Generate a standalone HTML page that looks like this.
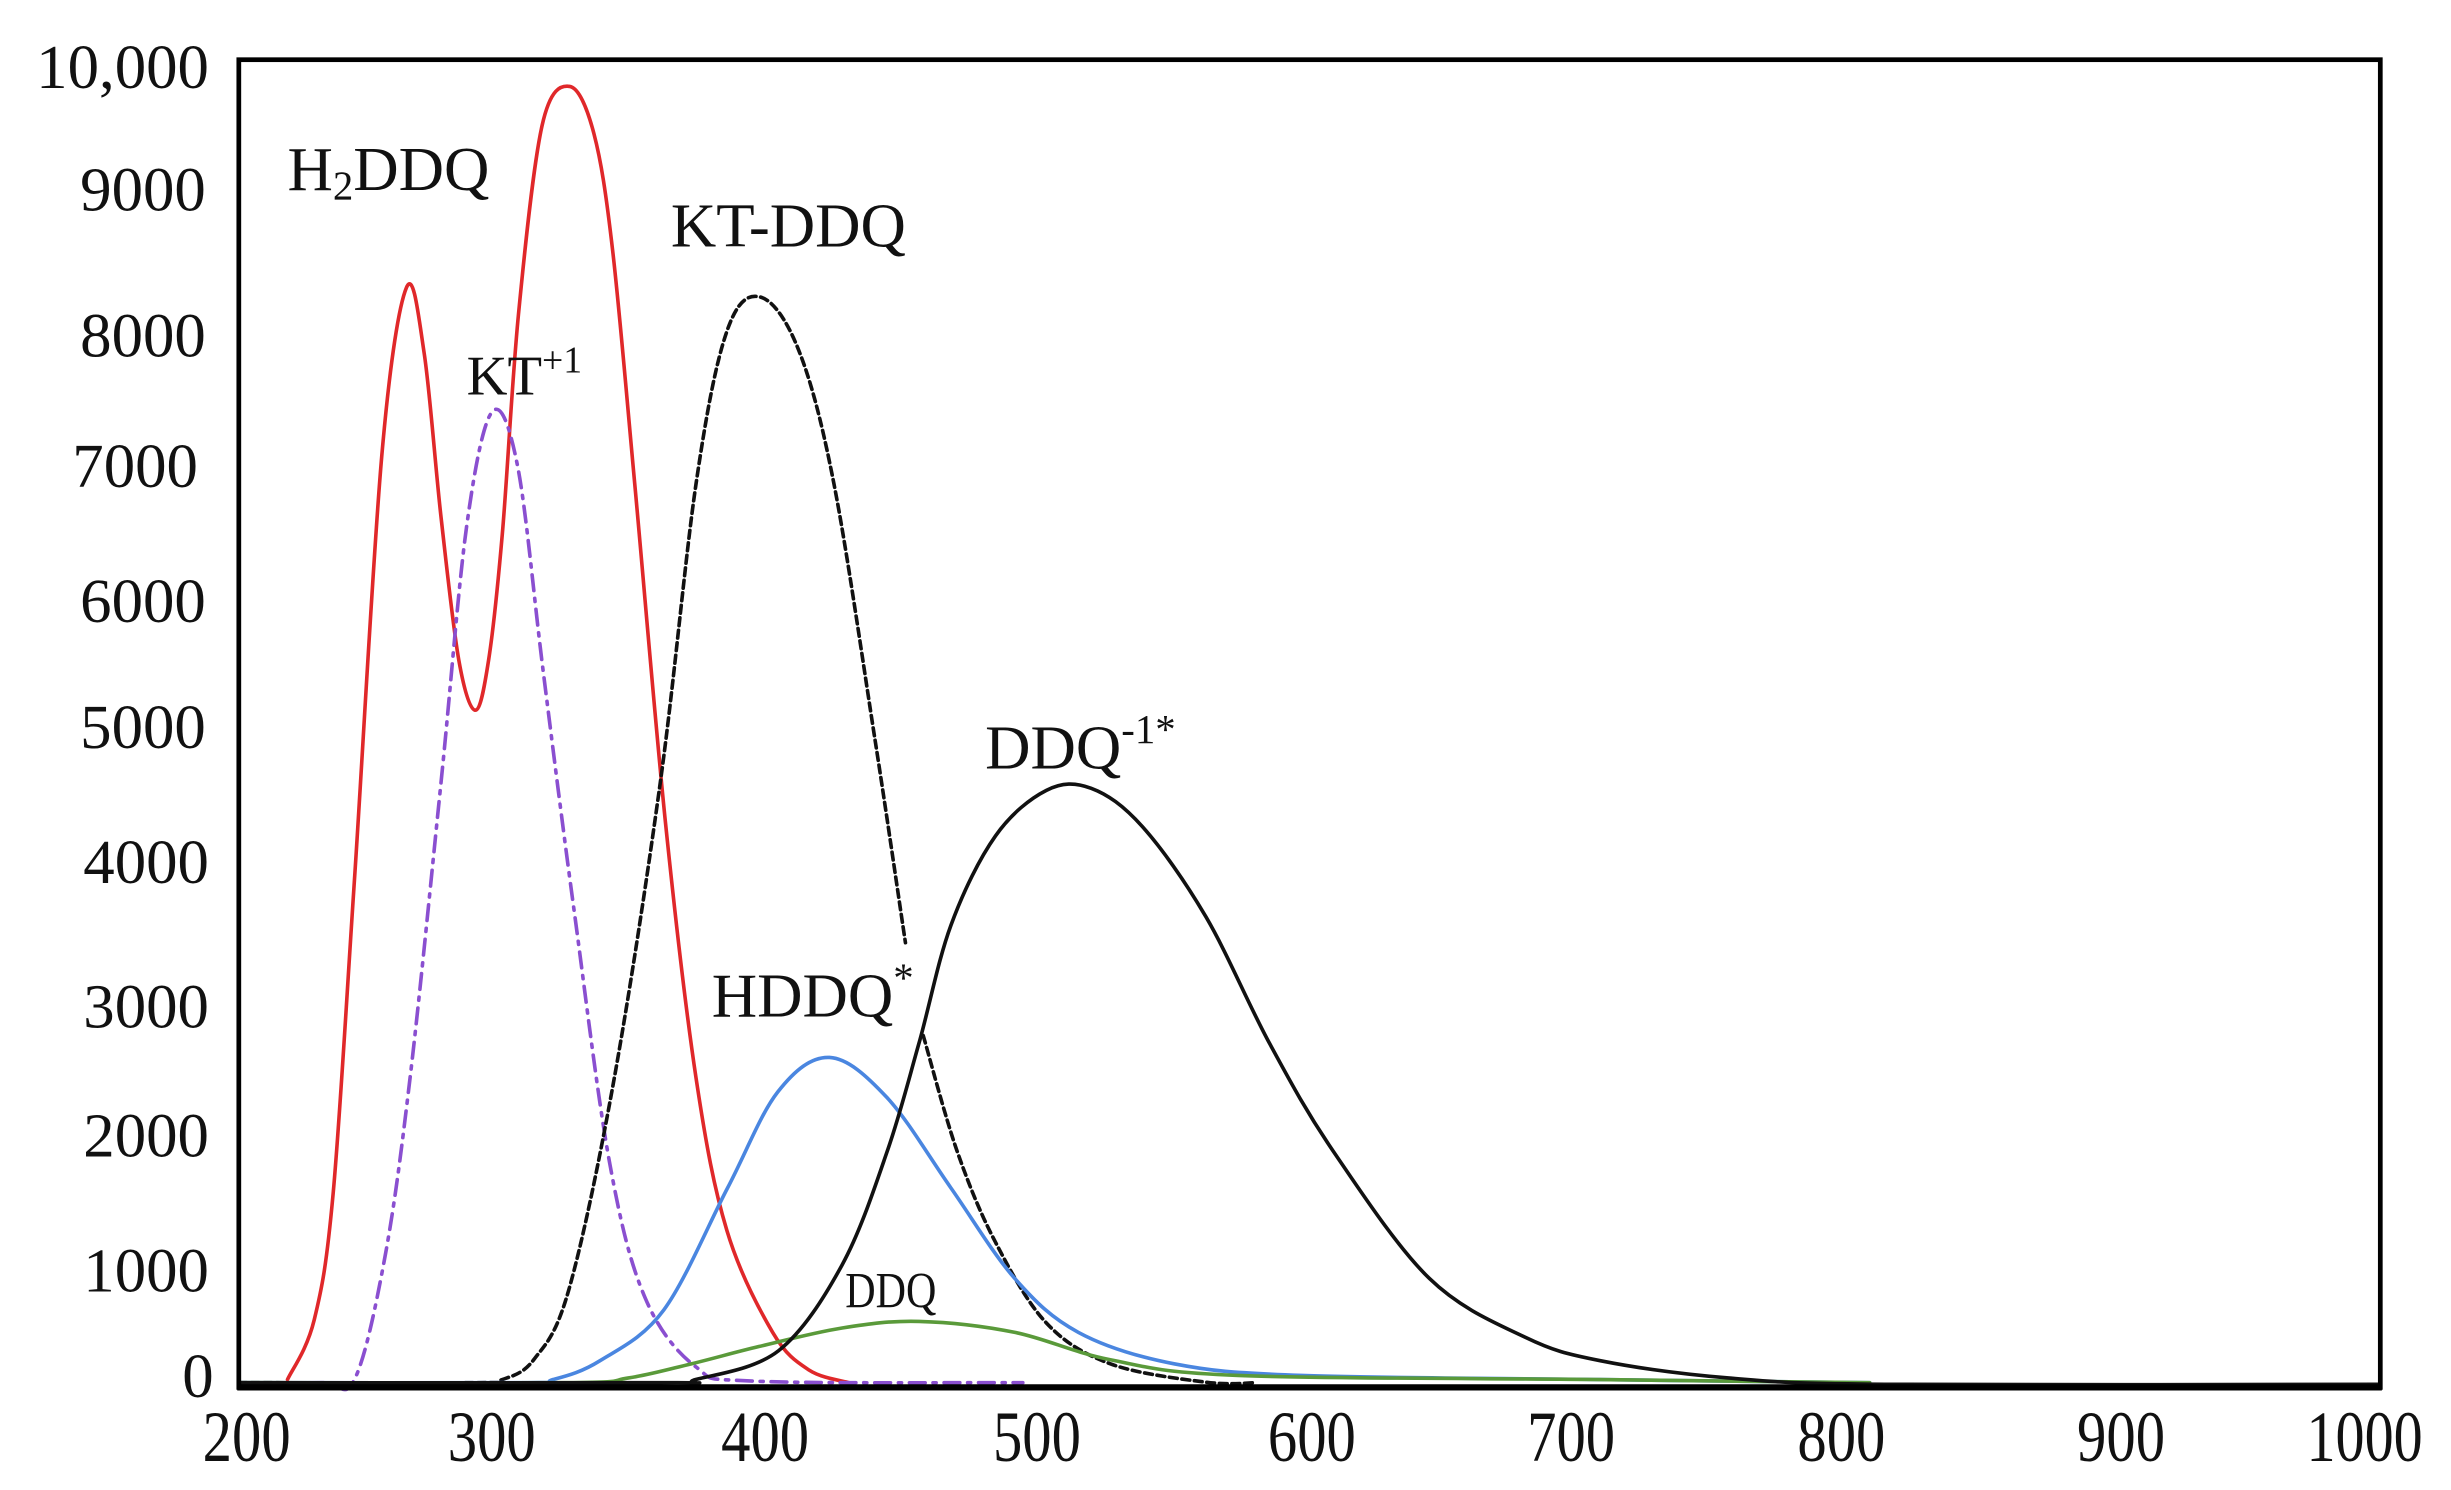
<!DOCTYPE html>
<html><head><meta charset="utf-8"><style>
html,body{margin:0;padding:0;background:#fff;}
svg{display:block;}
text{font-family:"Liberation Serif",serif;fill:#111;}
</style></head><body>
<svg id="s" width="2451" height="1490" viewBox="0 0 1560 948.3" preserveAspectRatio="none" xmlns="http://www.w3.org/2000/svg">
<rect x="0" y="0" width="1560" height="948.3" fill="#fff"/>
<g font-size="40" text-anchor="end">
<text x="133" y="56">10,000</text>
<text x="131" y="134">9000</text>
<text x="131" y="227">8000</text>
<text x="126" y="310">7000</text>
<text x="131" y="396">6000</text>
<text x="131" y="476">5000</text>
<text x="133" y="562">4000</text>
<text x="133" y="654">3000</text>
<text x="133" y="736">2000</text>
<text x="133" y="822">1000</text>
<text x="136" y="889">0</text>
</g>
<g font-size="46" text-anchor="middle" lengthAdjust="spacingAndGlyphs">
<text x="157" y="930" textLength="56" lengthAdjust="spacingAndGlyphs">200</text>
<text x="313" y="930" textLength="56" lengthAdjust="spacingAndGlyphs">300</text>
<text x="487" y="930" textLength="56" lengthAdjust="spacingAndGlyphs">400</text>
<text x="660" y="930" textLength="56" lengthAdjust="spacingAndGlyphs">500</text>
<text x="835" y="930" textLength="56" lengthAdjust="spacingAndGlyphs">600</text>
<text x="1000" y="930" textLength="56" lengthAdjust="spacingAndGlyphs">700</text>
<text x="1172" y="930" textLength="56" lengthAdjust="spacingAndGlyphs">800</text>
<text x="1350" y="930" textLength="56" lengthAdjust="spacingAndGlyphs">900</text>
<text x="1505" y="930" textLength="74" lengthAdjust="spacingAndGlyphs">1000</text>
</g>
<g id="curves" fill="none" stroke-width="2.3" stroke-linejoin="round" stroke-linecap="round"></g>
<rect x="152" y="38" width="1363" height="845" fill="none" stroke="#000" stroke-width="3"/>
<line x1="151" y1="883" x2="1516" y2="883" stroke="#000" stroke-width="4"/>
<text x="183" y="121" font-size="40">H<tspan font-size="26" dy="6">2</tspan><tspan dy="-6">DDQ</tspan></text>
<text x="427" y="157" font-size="40">KT-DDQ</text>
<text x="297" y="251" font-size="36">KT<tspan font-size="24" dy="-14">+1</tspan></text>
<text x="627" y="489" font-size="40">DDQ<tspan font-size="26" dy="-16">-1*</tspan></text>
<text x="453" y="647" font-size="40">HDDQ<tspan font-size="26" dy="-16">*</tspan></text>
<text x="538" y="832" font-size="32" textLength="58" lengthAdjust="spacingAndGlyphs">DDQ</text>
</svg>
<script>
var series=[
{c:"#e0282a",d:"",p:[[183,878],[200,840],[212,760],[225.6,560],[243,290],[258.7,183],[270,225],[280.8,330],[292,420],[302.5,452],[311,420],[319.7,340],[330,200],[345,80],[362.6,55],[378,85],[390,160],[404,308],[423.6,524],[443,686],[462.6,783],[491.8,848],[515,872],[540.5,880]]},
{c:"#8a4fd0",d:"10 5 2 5",p:[[152,880],[205,880],[225.6,878],[245,800],[261,686],[280.8,497],[297,335],[313.3,262],[329.5,297],[345.7,427],[365.2,578],[388,740],[410.6,826],[443,870],[480,879],[651,880]]},
{c:"#111",d:"5 3",p:[[152,880],[300,880],[319.7,878],[340,865],[362,821],[391,686],[420.4,497],[443,308],[462.6,211],[483.7,189],[508,222],[530.8,308],[556.8,470],[576.3,600]]},
{c:"#111",d:"5 3",p:[[587.6,659],[609.3,733],[633.6,790.6],[666,842],[706.7,868],[767.6,879.7],[800,880]]},
{c:"#4a86e0",d:"",p:[[152,880],[330,880],[352,878],[381.9,866],[422.5,833.7],[463.1,756],[495,695],[528,673],[564.6,698.6],[605.2,756],[645.8,813.6],[686.4,848],[747.3,868],[828.5,875.4],[1018.5,878],[1190,880]]},
{c:"#5a9a3a",d:"",p:[[152,880],[360,880],[400,877],[440,868],[483,857],[536,845.2],[585,841],[646,848],[706.7,865.4],[788,875.4],[1018.5,878],[1190,880]]},
{c:"#111",d:"",p:[[152,880],[420,880],[442.8,878],[495.6,859.6],[536,805],[564.6,733],[584.9,664],[605.2,589],[633.6,532],[666,503],[694.5,501.7],[727,526],[767.6,583.6],[808,664],[848.8,733],[909.7,813.6],[970.6,851],[1018.5,866],[1100,877],[1200,881],[1515,881]]}
];
var g=document.getElementById("curves");
function path(p){var s="M"+p[0][0]+","+p[0][1];for(var i=0;i<p.length-1;i++){var p0=p[i-1]||p[i],p1=p[i],p2=p[i+1],p3=p[i+2]||p2;
var c1x=p1[0]+(p2[0]-p0[0])/6,c1y=p1[1]+(p2[1]-p0[1])/6,c2x=p2[0]-(p3[0]-p1[0])/6,c2y=p2[1]-(p3[1]-p1[1])/6;
s+=" C"+c1x.toFixed(1)+","+c1y.toFixed(1)+" "+c2x.toFixed(1)+","+c2y.toFixed(1)+" "+p2[0]+","+p2[1];}return s;}
series.forEach(function(o){var e=document.createElementNS("http://www.w3.org/2000/svg","path");e.setAttribute("d",path(o.p));e.setAttribute("stroke",o.c);if(o.d)e.setAttribute("stroke-dasharray",o.d);g.appendChild(e);});
</script>
</body></html>
